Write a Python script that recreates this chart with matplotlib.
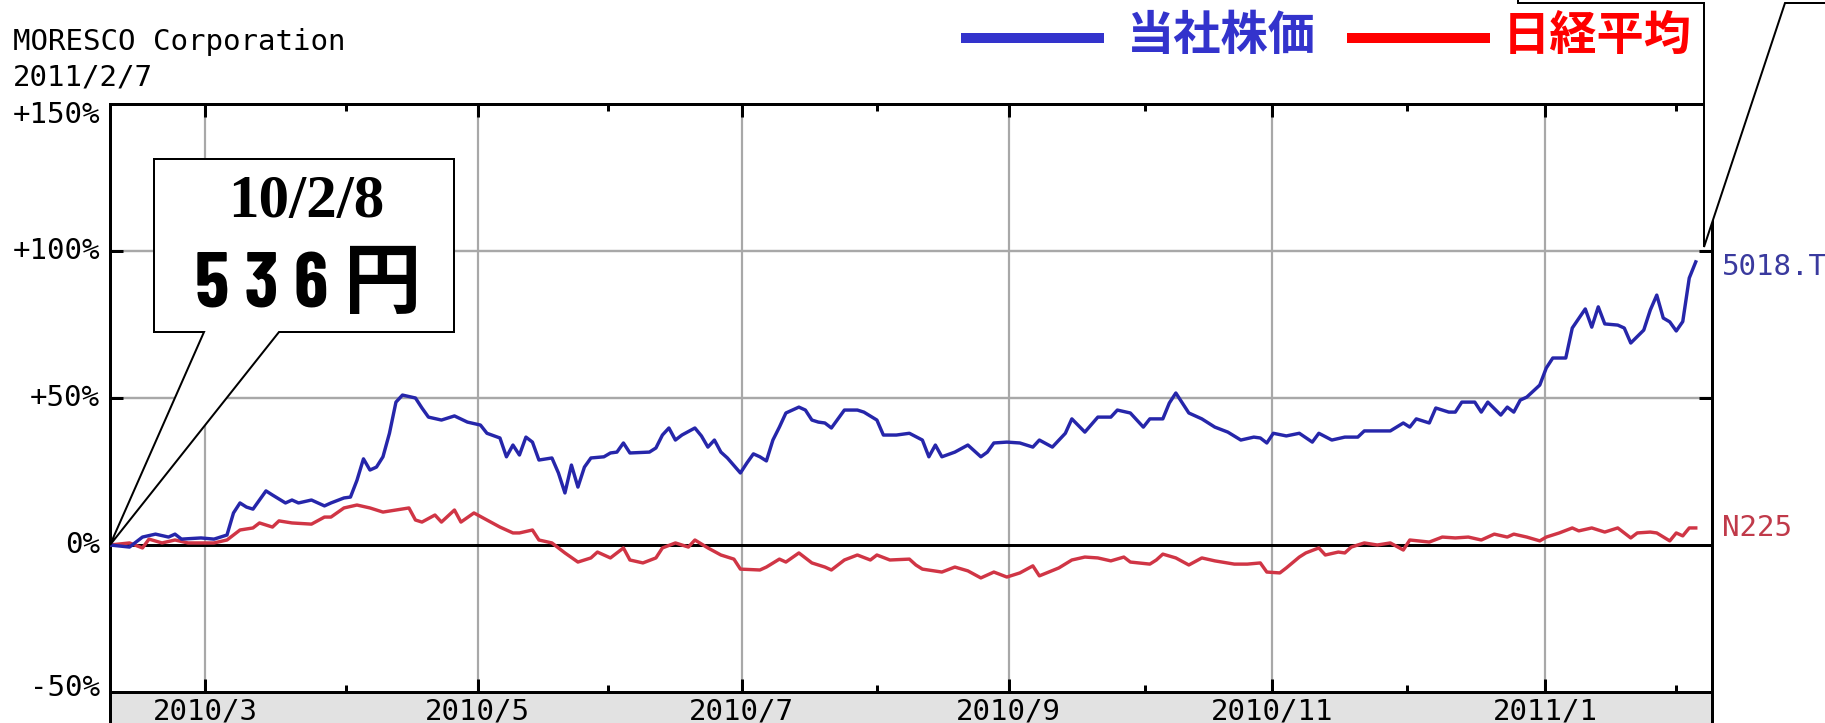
import matplotlib
matplotlib.use('Agg')
import matplotlib.pyplot as plt
from matplotlib.patches import Polygon, Rectangle
from matplotlib.lines import Line2D

# ---------------- data (session index, % change from 2010/2/8) ----------------
stock_idx = [0, 3, 5, 7, 9, 10, 11, 14, 16, 18, 19, 20, 21, 22, 23, 24, 25, 27, 28, 29,
             31, 33, 34, 36, 37, 38, 39, 40, 41, 42, 43, 44, 45, 47, 48, 49, 51, 53, 55, 57,
             58, 60, 61, 62, 63, 64, 65, 66, 68, 69, 70, 71, 72, 73, 74, 76, 77, 78, 79, 80,
             83, 84, 85, 86, 87, 88, 90, 91, 92, 93, 94, 95, 97, 98, 99, 100, 101, 102, 103, 104,
             106, 107, 108, 109, 110, 111, 113, 115, 116, 118, 119, 121, 123, 125, 126, 127, 128, 130, 132, 134,
             135, 136, 138, 140, 142, 143, 145, 147, 148, 150, 152, 154, 155, 157, 159, 160, 162, 163, 164, 165,
             166, 168, 170, 172, 174, 176, 177, 178, 179, 181, 183, 185, 186, 188, 190, 192, 193, 197, 199, 200,
             201, 203, 204, 206, 207, 208, 210, 211, 212, 214, 215, 216, 217, 218, 220, 221, 222, 224, 225, 227,
             228, 229, 230, 232, 233, 234, 236, 237, 238, 239, 240, 241, 242, 243, 244]
stock_pct = [0.0, -0.7, 2.7, 3.7, 2.7, 3.7, 2.0, 2.4, 2.0, 3.4, 10.9, 14.3, 12.9, 12.2, 15.3, 18.4, 17.0, 14.3, 15.3, 14.3,
             15.3, 13.3, 14.3, 16.0, 16.3, 22.0, 29.3, 25.5, 26.5, 30.0, 38.0, 48.6, 51.0, 50.0, 46.6, 43.5, 42.5, 43.9, 41.8, 40.8,
             38.0, 36.4, 30.0, 34.0, 30.6, 36.7, 35.0, 28.9, 29.6, 24.5, 17.7, 27.2, 19.7, 26.5, 29.6, 30.0, 31.3, 31.6, 34.7, 31.3,
             31.6, 33.0, 37.4, 39.8, 35.7, 37.4, 39.8, 37.1, 33.3, 35.7, 31.6, 29.6, 24.5, 27.9, 31.0, 30.0, 28.6, 35.7, 40.1, 44.9,
             46.9, 45.9, 42.5, 41.8, 41.5, 39.8, 45.9, 45.9, 45.2, 42.5, 37.4, 37.4, 38.0, 35.7, 30.0, 34.0, 30.0, 31.6, 34.0, 30.0,
             31.6, 34.7, 35.0, 34.7, 33.3, 35.7, 33.3, 38.0, 42.9, 38.4, 43.5, 43.5, 45.9, 44.9, 40.1, 42.9, 42.9, 48.3, 51.7, 48.3,
             44.9, 42.9, 40.1, 38.4, 35.7, 36.7, 36.4, 34.7, 38.0, 37.1, 38.0, 35.0, 38.0, 35.7, 36.7, 36.7, 38.8, 38.8, 41.5, 40.1,
             42.9, 41.5, 46.6, 45.2, 45.2, 48.6, 48.6, 45.2, 48.6, 44.2, 46.9, 45.2, 49.3, 50.3, 54.4, 60.2, 63.6, 63.6, 73.8, 80.3,
             74.1, 81.0, 75.2, 74.8, 73.8, 68.7, 73.1, 79.9, 85.0, 77.2, 75.9, 72.8, 76.0, 90.8, 96.3]

n225_idx = [0, 3, 5, 6, 8, 10, 12, 14, 16, 18, 20, 22, 23, 25, 26, 28, 31, 33, 34, 36,
            38, 40, 42, 44, 46, 47, 48, 50, 51, 53, 54, 56, 58, 60, 62, 63, 65, 66, 68, 70,
            72, 74, 75, 77, 79, 80, 82, 84, 85, 87, 89, 90, 92, 94, 96, 97, 100, 101, 103, 104,
            106, 108, 110, 111, 113, 115, 117, 118, 120, 123, 124, 125, 128, 130, 132, 134, 136, 138, 140, 142,
            143, 146, 148, 150, 152, 154, 156, 157, 160, 161, 162, 164, 166, 168, 170, 173, 175, 177, 178, 180,
            181, 183, 184, 186, 187, 189, 190, 191, 193, 195, 197, 199, 200, 203, 205, 207, 209, 211, 213, 215,
            216, 218, 220, 221, 223, 225, 226, 228, 230, 232, 234, 235, 237, 238, 240, 241, 242, 243, 244]
n225_pct = [0.0, 0.7, -1.0, 2.0, 0.7, 1.7, 0.7, 0.7, 0.7, 1.7, 5.1, 5.8, 7.5, 6.1, 8.2, 7.5, 7.1, 9.5, 9.5, 12.6,
            13.6, 12.6, 11.2, 11.9, 12.6, 8.5, 7.8, 10.2, 7.8, 11.9, 7.8, 10.9, 8.5, 6.1, 4.1, 4.1, 5.1, 1.7, 0.7, -2.7,
            -5.8, -4.4, -2.4, -4.4, -1.0, -5.1, -6.1, -4.4, -1.0, 0.7, -0.7, 1.7, -1.0, -3.4, -4.8, -8.2, -8.5, -7.5, -4.8, -5.8,
            -2.7, -6.1, -7.5, -8.5, -5.1, -3.4, -5.1, -3.4, -5.1, -4.8, -6.8, -8.2, -9.2, -7.5, -8.8, -11.2, -9.2, -10.9, -9.5, -7.1,
            -10.5, -7.8, -5.1, -4.1, -4.4, -5.4, -4.1, -5.8, -6.5, -5.1, -3.1, -4.4, -6.8, -4.4, -5.4, -6.5, -6.5, -6.1, -9.2, -9.5,
            -7.8, -4.1, -2.7, -1.0, -3.4, -2.4, -2.7, -0.7, 0.7, 0.0, 0.7, -1.7, 1.7, 1.0, 2.7, 2.4, 2.7, 1.7, 3.7, 2.7,
            3.7, 2.7, 1.4, 2.7, 4.1, 5.8, 4.8, 5.8, 4.4, 5.8, 2.4, 4.1, 4.4, 4.1, 1.4, 4.1, 3.1, 5.8, 5.8]

month_major_pos = [14.6, 56.6, 97.2, 138.3, 178.8, 220.8]
month_major_lbl = ["2010/3", "2010/5", "2010/7", "2010/9", "2010/11", "2011/1"]
month_minor_pos = [36.3, 76.6, 118.0, 159.2, 199.5, 240.9]
y_ticks = [150, 100, 50, 0, -50]
y_tick_lbl = ["+150%", "+100%", "+50%", "0%", "-50%"]
x_max = 246.5

title_name = "MORESCO Corporation"
title_date = "2011/2/7"
stock_code = "5018.T"
index_code = "N225"
legend_stock = "当社株価"
legend_index = "日経平均"
callout_date = "10/2/8"
callout_price = "5 3 6 円"

# ---------------- styles ----------------
W, H = 1825, 723
PX = 0.72  # points per pixel at dpi 100
MONO = 'DejaVu Sans Mono'
CJK = ['Noto Sans CJK JP', 'DejaVu Sans']
BLUE_LINE = '#2626aa'
RED_LINE = '#d03545'
GRID = '#a8a8a8'


def fx(px):
    return px / W


def fy(py):
    return 1 - py / H


fig = plt.figure(figsize=(W / 100, H / 100), dpi=100)
fig.patch.set_facecolor('white')
ax = fig.add_axes([fx(110), fy(692), (1712 - 110) / W, (692 - 104) / H])
ax.set_xlim(0, x_max)
ax.set_ylim(-50, 150)
ax.set_facecolor('white')

for s in ax.spines.values():
    s.set_linewidth(3 * PX)
    s.set_color('black')

# grid
for p in month_major_pos:
    ax.axvline(p, color=GRID, lw=2.2 * PX, zorder=1)
for v in (50, 100):
    ax.axhline(v, color=GRID, lw=2.4 * PX, zorder=1)
ax.axhline(0, color='black', lw=3 * PX, zorder=2)

# ticks
ax.set_xticks(month_major_pos)
ax.set_xticks(month_minor_pos, minor=True)
ax.set_yticks([50, 100])
ax.tick_params(axis='x', which='major', direction='in', length=13 * PX, width=3 * PX,
               top=True, bottom=True, labelbottom=False)
ax.tick_params(axis='x', which='minor', direction='in', length=7 * PX, width=3 * PX,
               top=True, bottom=True)
ax.tick_params(axis='y', which='major', direction='in', length=13 * PX, width=3 * PX,
               left=True, right=True, labelleft=False)

# data
ax.plot(n225_idx, n225_pct, color=RED_LINE, lw=3.4 * PX, zorder=3)
ax.plot(stock_idx, stock_pct, color=BLUE_LINE, lw=3.4 * PX, zorder=4)

# y labels
for v, lbl in zip(y_ticks, y_tick_lbl):
    dy = 0
    if v == 150:
        dy = -11 * PX
    elif v == -50:
        dy = 4 * PX
    ax.annotate(lbl, xy=(0, v), xycoords=('axes fraction', 'data'),
                xytext=(-10 * PX, dy), textcoords='offset points',
                ha='right', va='center', fontfamily=MONO, fontsize=21,
                color='black', annotation_clip=False)

# x labels
for p, lbl in zip(month_major_pos, month_major_lbl):
    ax.annotate(lbl, xy=(p, 0), xycoords=('data', 'axes fraction'),
                xytext=(0, -20 * PX), textcoords='offset points',
                ha='center', va='center', fontfamily=MONO, fontsize=21,
                color='black', annotation_clip=False)

# right end labels
ax.annotate(stock_code, xy=(1, stock_pct[-1]), xycoords=('axes fraction', 'data'),
            xytext=(10 * PX, -5 * PX), textcoords='offset points', ha='left', va='center',
            fontfamily=MONO, fontsize=21, color='#3a3a9e', annotation_clip=False)
ax.annotate(index_code, xy=(1, n225_pct[-1]), xycoords=('axes fraction', 'data'),
            xytext=(10 * PX, 0), textcoords='offset points', ha='left', va='center',
            fontfamily=MONO, fontsize=21, color='#c03a4a', annotation_clip=False)

# grey band under the axis
fig.add_artist(Rectangle((fx(110), 0), (1712 - 110) / W, fy(692), transform=fig.transFigure,
                         facecolor='#e2e2e2', edgecolor='none', zorder=-2))
for xp in (110, 1712):
    fig.add_artist(Line2D([fx(xp), fx(xp)], [0, fy(692)], transform=fig.transFigure,
                          color='black', lw=3 * PX, zorder=-1))

# title
fig.text(fx(13), fy(42), title_name, ha='left', va='center', fontfamily=MONO, fontsize=21)
fig.text(fx(13), fy(78), title_date, ha='left', va='center', fontfamily=MONO, fontsize=21)

# legend
fig.add_artist(Line2D([fx(961), fx(1104)], [fy(38), fy(38)], transform=fig.transFigure,
                      color='#3333cc', lw=10 * PX, solid_capstyle='butt'))
fig.text(fx(1127), fy(36), legend_stock, ha='left', va='center', fontfamily=CJK,
         fontweight='bold', fontsize=34, color='#3333cc')
fig.add_artist(Line2D([fx(1347), fx(1490)], [fy(38), fy(38)], transform=fig.transFigure,
                      color='#ff0000', lw=10 * PX, solid_capstyle='butt'))
fig.text(fx(1503), fy(36), legend_index, ha='left', va='center', fontfamily=CJK,
         fontweight='bold', fontsize=34, color='#ff0000')

# callout (start)
c1 = [(154, 159), (454, 159), (454, 332), (279, 332), (110, 545), (204, 332), (154, 332)]
fig.add_artist(Polygon([(fx(x), fy(y)) for x, y in c1], closed=True, transform=fig.transFigure,
                       facecolor='white', edgecolor='black', lw=2 * PX, zorder=10))
fig.text(fx(306), fy(202), callout_date, ha='center', va='center',
         fontfamily=['Liberation Serif', 'DejaVu Serif'], fontweight='bold', fontsize=44, zorder=11)
fig.text(fx(308), fy(287), callout_price, ha='center', va='center',
         fontfamily=['Barlow Condensed', 'Noto Sans CJK JP'], fontweight='bold',
         fontsize=56, zorder=11)

# callout (end, cut by the top edge)
c2 = [(1518, -60), (1518, 3), (1704, 3), (1704, 247), (1785, 3), (1900, 3), (1900, -60)]
fig.add_artist(Polygon([(fx(x), fy(y)) for x, y in c2], closed=True, transform=fig.transFigure,
                       facecolor='white', edgecolor='black', lw=2 * PX, zorder=10,
                       clip_on=False))

fig.savefig('out.png', dpi=100)
